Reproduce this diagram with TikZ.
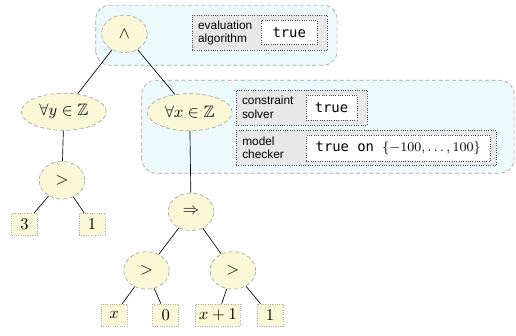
\documentclass[tikz,border=0pt]{standalone}
\usepackage{amssymb}
\usepackage{fontspec}
\setsansfont{Liberation Sans}
\setmonofont{DejaVu Sans Mono}
\usetikzlibrary{shapes.geometric}
\definecolor{panelcolor}{RGB}{236,250,251}
\definecolor{opcolor}{RGB}{250,248,214}
\definecolor{leafcolor}{RGB}{250,248,214}

\tikzset{
  panel/.style={draw=gray!70, dash pattern=on 2.5pt off 1.5pt, fill=panelcolor, rounded corners=0.3cm},
  opnode/.style={ellipse, draw=gray!70, dash pattern=on 2.5pt off 1.5pt, fill=opcolor, inner sep=0pt, minimum width=0.97cm, minimum height=0.8cm},
  quantnode/.style={opnode, minimum width=1.81cm, minimum height=0.79cm},
  leafnode/.style={draw=gray!65, densely dotted, fill=leafcolor, inner sep=2.2pt, minimum width=0.55cm, minimum height=0.47cm},
  toolbox/.style={draw=black!70, densely dotted, fill=gray!18, inner sep=0pt, minimum height=0.75cm},
  tooltext/.style={inner sep=0pt, align=left, font=\fontsize{7.2}{8.2}\selectfont\sffamily},
  verdict/.style={draw=black!70, densely dotted, fill=white, inner sep=0pt, font=\fontsize{8.4}{10}\selectfont\ttfamily}
}

\begin{document}
\begin{tikzpicture}
    \useasboundingbox (0,0) rectangle (10.99,7.14);

    % Shaded panels behind the analysed subformulas
    \draw[panel] (2.04,5.75) rectangle (7.18,7.03);
    \draw[panel] (3.02,3.45) rectangle (10.95,5.43);

    % Formula tree
    \node[opnode] (and) at (2.65,6.42) {$\wedge$};
    \node[quantnode] (ally) at (1.36,4.76) {$\forall y \in \mathbb{Z}$};
    \node[quantnode] (allx) at (4.04,4.75) {$\forall x \in \mathbb{Z}$};
    \node[opnode] (gty) at (1.32,3.30) {$>$};
    \node[leafnode] (three) at (0.52,2.36) {$3$};
    \node[leafnode] (oneA) at (1.96,2.36) {$1$};
    \node[opnode] (imp) at (4.07,2.63) {$\Rightarrow$};
    \node[opnode] (gtl) at (3.12,1.38) {$>$};
    \node[opnode] (gtr) at (4.96,1.38) {$>$};
    \node[leafnode] (xleaf) at (2.43,0.43) {$x$};
    \node[leafnode] (zero) at (3.53,0.43) {$0$};
    \node[leafnode] (xp1) at (4.64,0.43) {$x+1$};
    \node[leafnode] (oneB) at (5.75,0.43) {$1$};

    \draw (and) -- (ally);
    \draw (and) -- (allx);
    \draw (ally) -- (gty);
    \draw (gty) -- (three);
    \draw (gty) -- (oneA);
    \draw (allx) -- (imp);
    \draw (imp) -- (gtl);
    \draw (imp) -- (gtr);
    \draw (gtl) -- (xleaf);
    \draw (gtl) -- (zero);
    \draw (gtr) -- (xp1);
    \draw (gtr) -- (oneB);

    % Tool results
    \node[toolbox, minimum width=2.88cm] (evalbox) at (5.53,6.44) {};
    \node[tooltext, anchor=west] (evallbl) at ([xshift=0.13cm]evalbox.west) {evaluation\\algorithm};
    \node[verdict, minimum width=1.19cm, minimum height=0.51cm] (evalval) at (6.16,6.45) {true};

    \node[toolbox, minimum width=2.79cm] (solvebox) at (6.42,4.85) {};
    \node[tooltext, anchor=west] (solvelbl) at ([xshift=0.13cm]solvebox.west) {constraint\\solver};
    \node[verdict, minimum width=1.09cm, minimum height=0.53cm] (solveval) at (7.06,4.85) {true};

    \node[toolbox, minimum width=5.54cm] (checkbox) at (7.80,3.99) {};
    \node[tooltext, anchor=west] (checklbl) at ([xshift=0.13cm]checkbox.west) {model\\checker};
    \node[verdict, minimum width=3.92cm, minimum height=0.55cm] (checkval) at (8.48,3.98) {true on $\{-100,\ldots,100\}$};

\end{tikzpicture}
\end{document}
